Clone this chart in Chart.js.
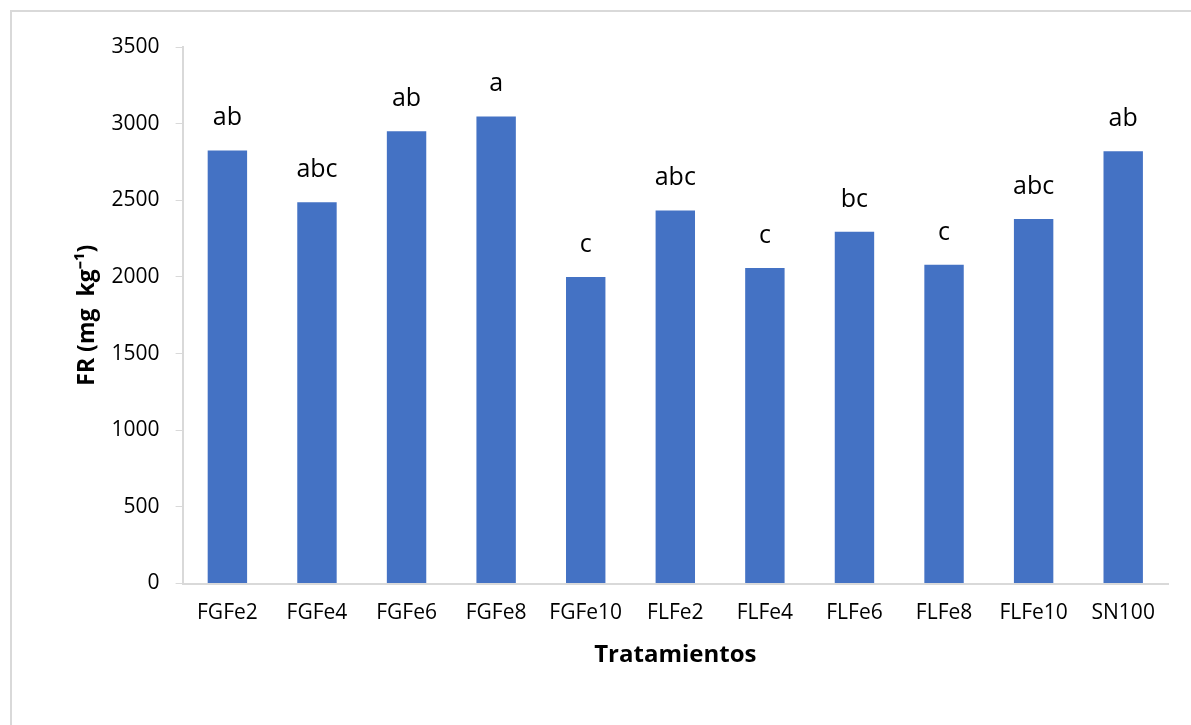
<!DOCTYPE html>
<html>
<head>
<meta charset="utf-8">
<script src="https://cdn.jsdelivr.net/npm/chart.js"></script>
<style>
  body { margin: 0; background: #fff; }
  #wrap { position: relative; width: 1191px; height: 725px; overflow: hidden; }
  #frame { position: absolute; left: 10px; top: 10px; width: 1200px; height: 800px;
           border-top: 2px solid #d9d9d9; border-left: 2px solid #d9d9d9; }
  #canvas { position: absolute; left: 0; top: 0; }
</style>
</head>
<body>
<div id="wrap">
  <div id="frame"></div>
  <canvas id="canvas" width="1191" height="725"></canvas>
</div>
<script>
let categories = ['FGFe2', 'FGFe4', 'FGFe6', 'FGFe8', 'FGFe10', 'FLFe2', 'FLFe4', 'FLFe6', 'FLFe8', 'FLFe10', 'SN100'];
let frValues = [2825, 2487, 2951, 3047, 2000, 2434, 2058, 2295, 2080, 2378, 2820];
let letters = ['ab', 'abc', 'ab', 'a', 'c', 'abc', 'c', 'bc', 'c', 'abc', 'ab'];
let yTicks = [0, 500, 1000, 1500, 2000, 2500, 3000, 3500];

// letras de significancia encima de cada barra
const letterPlugin = {
    id: 'letters',
    afterDatasetsDraw(chart) {
        let ctx = chart.ctx;
        let meta = chart.getDatasetMeta(0);
        ctx.save();
        ctx.font = '25px "Open Sans"';
        ctx.fillStyle = '#000';
        ctx.textAlign = 'center';
        ctx.textBaseline = 'alphabetic';
        meta.data.forEach((bar, i) => {
            ctx.fillText(letters[i], bar.x, bar.y - 25);
        });
        ctx.restore();
    }
};

window.onload = function () {
    let ctx = document.getElementById('canvas').getContext('2d');
    let myChart = new Chart(ctx, {
        type: 'bar',
        data: {
            labels: categories,
            datasets: [{
                label: 'FR',
                data: frValues,
                backgroundColor: '#4472c4',
                barPercentage: 0.44,
                categoryPercentage: 1
            }]
        },
        options: {
            responsive: false,
            animation: false,
            layout: { padding: { top: 47, right: 23, left: 0, bottom: 0 } },
            plugins: { legend: { display: false }, tooltip: { enabled: false } },
            scales: {
                x: {
                    grid: { display: false, drawTicks: false, tickLength: 0 },
                    border: { color: '#d9d9d9', width: 2 },
                    ticks: { color: '#000', font: { family: 'Open Sans', size: 21 }, padding: 17, maxRotation: 0 },
                    title: {
                        display: true, text: 'Tratamientos', color: '#000',
                        font: { family: 'Open Sans', size: 24, weight: 'bold' },
                        padding: { top: 0, bottom: 55 }
                    },
                    afterFit: (s) => { s.height = 141.5; }
                },
                y: {
                    min: 0, max: 3500,
                    afterBuildTicks: (s) => { s.ticks = yTicks.map(v => ({ value: v })); },
                    grid: { drawOnChartArea: false, drawTicks: true, tickLength: 7, color: '#d9d9d9' },
                    border: { color: '#d9d9d9', width: 2 },
                    ticks: {
                        color: '#000', font: { family: 'Open Sans', size: 21 }, padding: 16,
                        callback: (v) => String(v)
                    },
                    title: {
                        display: true, text: 'FR (mg  kg\u207B\u00B9)', color: '#000',
                        font: { family: 'Open Sans', size: 23, weight: 'bold' },
                        padding: { top: 74, bottom: 0 }
                    },
                    afterFit: (s) => { s.width = 182.6; }
                }
            }
        },
        plugins: [letterPlugin]
    });
};
</script>
</body>
</html>
